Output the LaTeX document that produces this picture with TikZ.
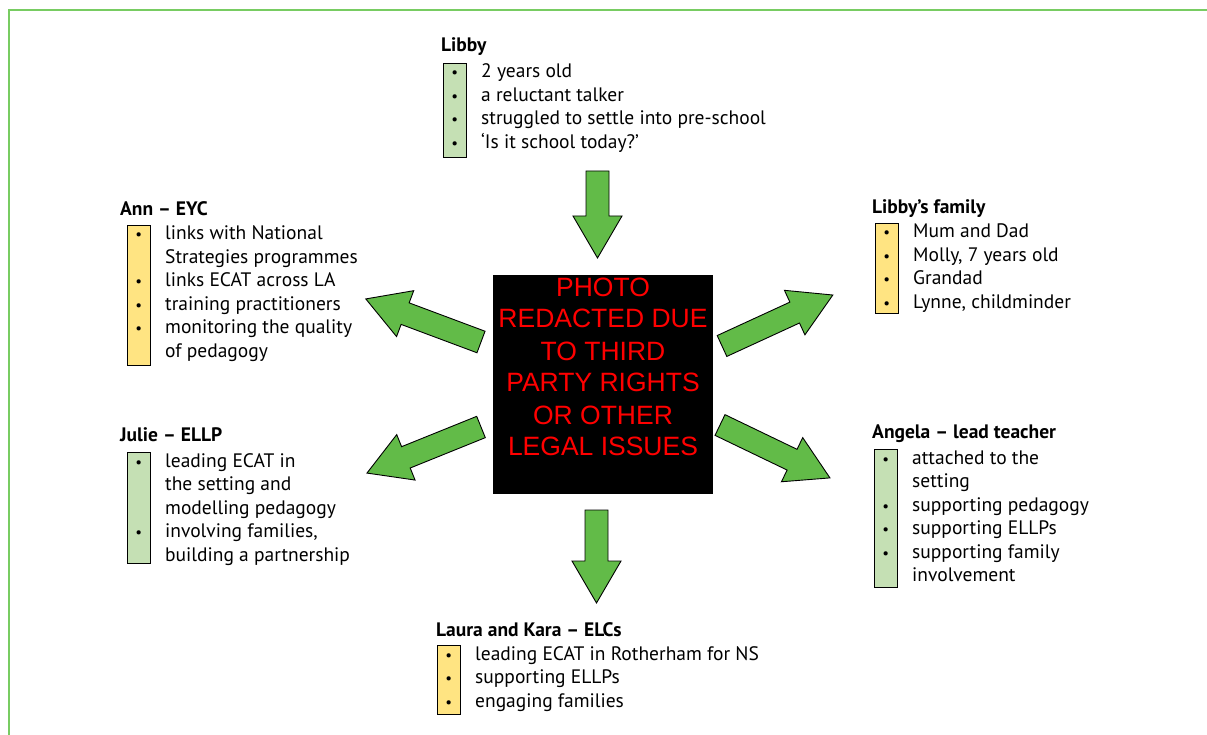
\documentclass[tikz,border=0pt]{standalone}
\usepackage{fontspec}
\setmainfont{PT Sans}
\newfontfamily\redactfont{Liberation Sans}
\usepackage{array}
\usetikzlibrary{positioning,calc}

\definecolor{framegreen}{RGB}{120,204,98}
\definecolor{arrowgreen}{RGB}{98,187,72}
\definecolor{boxgreen}{RGB}{197,224,180}
\definecolor{boxyellow}{RGB}{255,228,130}
\definecolor{redacttext}{RGB}{255,0,0}

\newcolumntype{B}{@{}wc{23pt}@{\hspace{15pt}}l@{}}
\newcommand{\bul}{{\fontsize{15}{15}\selectfont\textbullet}}
% block arrow: tail point, angle, length
\newcommand{\blockarrow}[3]{%
  \begin{scope}[shift={#1},rotate=#2]
    \draw[arrowshape] (0,-11.5) -- ({#3-42},-11.5) -- ({#3-42},-24.5) -- (#3,0)
      -- ({#3-42},24.5) -- ({#3-42},11.5) -- (0,11.5) -- cycle;
  \end{scope}}

\begin{document}
\begin{tikzpicture}[x=1pt,y=-1pt,
    head/.style={font=\fontsize{19.5}{23.5}\selectfont\bfseries, inner sep=0, anchor=base west},
    list/.style={font=\fontsize{19.5}{23.5}\selectfont, inner sep=0, anchor=base west},
    gbox/.style={draw, line width=1.2, fill=boxgreen, minimum width=23, inner sep=0, anchor=north west},
    ybox/.style={gbox, fill=boxyellow},
    arrowshape/.style={draw=black, line width=0.9, fill=arrowgreen, line join=miter}]
    \useasboundingbox (0,0) rectangle (1207,735);
    
    %frame
    \draw[framegreen, line width=2] (8.5,735) -- (8.5,10.5) -- (1207,10.5);
    
    %photo
    \node[fill=black, minimum width=220, minimum height=219, inner sep=0, anchor=north west] (photo) at (493,275) {};
    \node[font=\redactfont\fontsize{26.5}{32}\selectfont, text=redacttext, inner sep=0, anchor=base] (photolabel) at (603,296)
      {\begin{tabular}[t]{@{}c@{}}PHOTO\\ REDACTED DUE\\ TO THIRD\\ PARTY RIGHTS\\ OR OTHER\\ LEGAL ISSUES\end{tabular}};
    
    %arrows
    \blockarrow{(597.5,171)}{-90}{87}
    \blockarrow{(596.5,510)}{-90}{93}
    \blockarrow{(481,342)}{159.5}{123}
    \blockarrow{(722,346)}{24.7}{122}
    \blockarrow{(481,427)}{202}{123}
    \blockarrow{(720,425)}{-25.7}{122}
    
    %Libby
    \node[head] (libbyhead) at (441,52) {Libby};
    \node[gbox, minimum height=94] (libbybox) at (443,63) {};
    \node[list] (libbylist) at (443,78) {\begin{tabular}[t]{B}
      \bul & 2 years old\\ \bul & a reluctant talker\\ \bul & struggled to settle into pre-school\\ \bul & ‘Is it school today?’\end{tabular}};
    
    %Ann
    \node[head] (annhead) at (120,216) {Ann – EYC};
    \node[ybox, minimum height=140] (annbox) at (127,225) {};
    \node[list] (annlist) at (127,240) {\begin{tabular}[t]{B}
      \bul & links with National\\ & Strategies programmes\\ \bul & links ECAT across LA\\ \bul & training practitioners\\
      \bul & monitoring the quality\\ & of pedagogy\end{tabular}};
    
    %family
    \node[head] (famhead) at (872,214) {Libby’s family};
    \node[ybox, minimum height=90] (fambox) at (875,223) {};
    \node[list] (famlist) at (875,238) {\begin{tabular}[t]{B}
      \bul & Mum and Dad\\ \bul & Molly, 7 years old\\ \bul & Grandad\\ \bul & Lynne, childminder\end{tabular}};
    
    %Julie
    \node[head] (juliehead) at (120,441) {Julie – ELLP};
    \node[gbox, minimum height=111] (juliebox) at (127,452) {};
    \node[list] (julielist) at (127,467) {\begin{tabular}[t]{B}
      \bul & leading ECAT in\\ & the setting and\\ & modelling pedagogy\\ \bul & involving families,\\ & building a partnership\end{tabular}};
    
    %Angela
    \node[head] (angelahead) at (872,438) {Angela – lead teacher};
    \node[gbox, minimum height=138] (angelabox) at (874,449) {};
    \node[list] (angelalist) at (874,464) {\begin{tabular}[t]{B}
      \bul & attached to the\\ & setting\\ \bul & supporting pedagogy\\ \bul & supporting ELLPs\\
      \bul & supporting family\\ & involvement\end{tabular}};
    
    %Laura and Kara
    \node[head] (laurahead) at (436,636) {Laura and Kara – ELCs};
    \node[ybox, minimum height=69] (laurabox) at (437,645) {};
    \node[list] (lauralist) at (437,660) {\begin{tabular}[t]{B}
      \bul & leading ECAT in Rotherham for NS\\ \bul & supporting ELLPs\\ \bul & engaging families\end{tabular}};
\end{tikzpicture}
\end{document}
